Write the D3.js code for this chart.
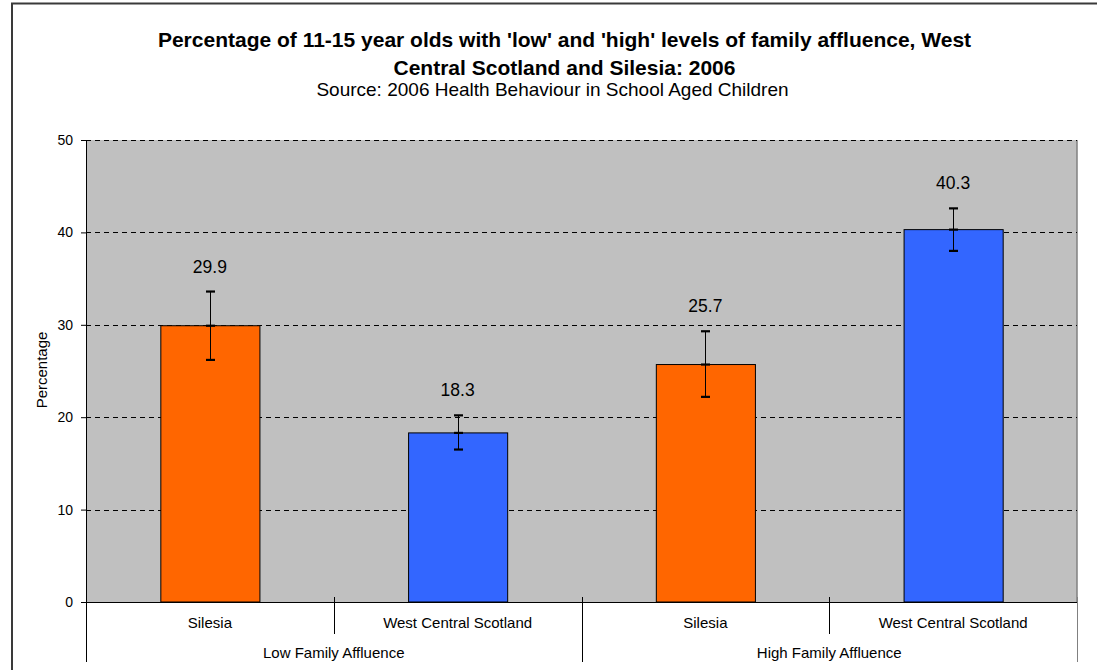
<!DOCTYPE html>
<html>
<head>
<meta charset="utf-8">
<script src="https://cdn.jsdelivr.net/npm/d3@7"></script>
<style>
  html, body { margin: 0; padding: 0; background: #ffffff; }
  svg { display: block; font-family: "Liberation Sans", Arial, sans-serif; }
</style>
</head>
<body>
<svg id="chart" width="1097" height="670"></svg>
<script>
// ---- data ----
const titleLines = ["Percentage of 11-15 year olds with 'low' and 'high' levels of family affluence, West", "Central Scotland and Silesia: 2006"];
const subtitle = "Source: 2006 Health Behaviour in School Aged Children";
const groups = ["Low Family Affluence", "High Family Affluence"];
const regions = ["Silesia", "West Central Scotland", "Silesia", "West Central Scotland"];
const values = [29.9, 18.3, 25.7, 40.3];
const lowerCI = [26.2, 16.5, 22.2, 38.0];
const upperCI = [33.6, 20.2, 29.3, 42.6];
const barColors = ["#FF6600", "#3366FF", "#FF6600", "#3366FF"];
const yTicks = [0, 10, 20, 30, 40, 50];
const yTitle = "Percentage";

// ---- layout ----
const svg = d3.select("#chart");
const plot = { left: 86, right: 1077, top: 140, bottom: 602 };

// outer chart border (cropped on right/bottom as in reference)
svg.append("path")
  .attr("d", "M12,700 L12,3.5 L1110,3.5")
  .attr("fill", "none").attr("stroke", "#3a3a3a").attr("stroke-width", 2);

// titles
svg.selectAll("text.title").data(titleLines).enter().append("text")
  .attr("class", "title")
  .attr("x", 564.5).attr("y", (d, i) => 47 + i * 28)
  .attr("text-anchor", "middle")
  .attr("font-size", "21px").attr("font-weight", "bold").attr("fill", "#000")
  .text(d => d);
svg.append("text")
  .attr("x", 552.5).attr("y", 96)
  .attr("text-anchor", "middle").attr("font-size", "19px").attr("fill", "#000")
  .text(subtitle);

// scales
const idx = d3.range(values.length);
const y = d3.scaleLinear().domain([0, 50]).range([plot.bottom, plot.top]);
const xBar = d3.scaleBand().domain(idx).range([plot.left, plot.right])
  .paddingInner(0.6).paddingOuter(0.3);
const xSlot = d3.scaleBand().domain(idx).range([plot.left, plot.right]).padding(0);
const xGroup = d3.scaleBand().domain(groups).range([plot.left, plot.right]).padding(0);

// plot background
svg.append("rect")
  .attr("x", plot.left).attr("y", plot.top)
  .attr("width", plot.right - plot.left).attr("height", plot.bottom - plot.top)
  .attr("fill", "#C0C0C0");
// right plot border
svg.append("line")
  .attr("x1", plot.right).attr("x2", plot.right)
  .attr("y1", plot.top).attr("y2", plot.bottom)
  .attr("stroke", "#808080").attr("stroke-width", 1.5);

// gridlines
svg.selectAll("line.grid").data(yTicks.filter(t => t > 0)).enter().append("line")
  .attr("class", "grid")
  .attr("x1", plot.left).attr("x2", plot.right)
  .attr("y1", d => Math.round(y(d)) + 0.5).attr("y2", d => Math.round(y(d)) + 0.5)
  .attr("stroke", "#000").attr("stroke-width", 1)
  .attr("stroke-dasharray", "5,4");

// y axis
const yAxis = d3.axisLeft(y).tickValues(yTicks).tickSize(5).tickPadding(8).tickFormat(d3.format("d"));
const yg = svg.append("g").attr("transform", `translate(${plot.left},0)`).call(yAxis);
yg.select(".domain").attr("stroke", "#000").attr("d", `M0.5,${plot.top}V${plot.bottom}`);
yg.selectAll(".tick line").attr("stroke", "#000");
yg.selectAll(".tick text").attr("font-size", "14px").attr("fill", "#000")
  .attr("font-family", "Liberation Sans, Arial, sans-serif");

// y title
svg.append("text")
  .attr("transform", `translate(47,${(plot.top + plot.bottom) / 2 - 1}) rotate(-90)`)
  .attr("text-anchor", "middle").attr("font-size", "15px").attr("fill", "#000")
  .text(yTitle);

// bars
svg.selectAll("rect.bar").data(idx).enter().append("rect")
  .attr("class", "bar")
  .attr("x", i => xBar(i) + 0.5).attr("y", i => y(values[i]))
  .attr("width", xBar.bandwidth()).attr("height", i => y(0) - y(values[i]))
  .attr("fill", i => barColors[i]).attr("stroke", "#000").attr("stroke-width", 1);

// error bars
const cx = i => Math.round(xBar(i) + xBar.bandwidth() / 2) + 0.5;
const eb = svg.append("g");
eb.selectAll("line.err").data(idx).enter().append("line")
  .attr("x1", cx).attr("x2", cx)
  .attr("y1", i => y(upperCI[i])).attr("y2", i => y(lowerCI[i]))
  .attr("stroke", "#000").attr("stroke-width", 1);
const caps = [];
idx.forEach(i => { caps.push([i, upperCI[i]], [i, values[i]], [i, lowerCI[i]]); });
eb.selectAll("line.cap").data(caps).enter().append("line")
  .attr("x1", d => cx(d[0]) - 4.5).attr("x2", d => cx(d[0]) + 4.5)
  .attr("y1", d => y(d[1])).attr("y2", d => y(d[1]))
  .attr("stroke", "#000").attr("stroke-width", 2.2);

// value labels (placed above upper error bar)
svg.selectAll("text.val").data(idx).enter().append("text")
  .attr("x", i => xBar(i) + xBar.bandwidth() / 2)
  .attr("y", i => y(upperCI[i]) - 19)
  .attr("text-anchor", "middle").attr("font-size", "17.5px").attr("fill", "#000")
  .text(i => values[i].toFixed(1));

// x axis line
svg.append("line")
  .attr("x1", plot.left).attr("x2", plot.right)
  .attr("y1", plot.bottom + 0.5).attr("y2", plot.bottom + 0.5)
  .attr("stroke", "#000").attr("stroke-width", 1);

// inner category dividers (between regions within each group)
const innerDiv = idx.filter(i => i % 2 === 1).map(i => xSlot(i));
svg.selectAll("line.idiv").data(innerDiv).enter().append("line")
  .attr("x1", d => Math.round(d) + 0.5).attr("x2", d => Math.round(d) + 0.5)
  .attr("y1", plot.bottom - 5).attr("y2", plot.bottom + 32)
  .attr("stroke", "#000").attr("stroke-width", 1);
// group dividers
const groupDiv = groups.map(g => xGroup(g)).concat([plot.right]);
svg.selectAll("line.gdiv").data(groupDiv).enter().append("line")
  .attr("x1", d => Math.round(d) + 0.5).attr("x2", d => Math.round(d) + 0.5)
  .attr("y1", plot.bottom - 5).attr("y2", 662)
  .attr("stroke", (d, i) => i === groupDiv.length - 1 ? "#808080" : "#000").attr("stroke-width", 1);

// category labels
svg.selectAll("text.cat").data(idx).enter().append("text")
  .attr("x", i => xSlot(i) + xSlot.bandwidth() / 2).attr("y", plot.bottom + 25.5)
  .attr("text-anchor", "middle").attr("font-size", "15px").attr("fill", "#000")
  .text(i => regions[i]);
svg.selectAll("text.grp").data(groups).enter().append("text")
  .attr("x", g => xGroup(g) + xGroup.bandwidth() / 2).attr("y", plot.bottom + 55.5)
  .attr("text-anchor", "middle").attr("font-size", "15px").attr("fill", "#000")
  .text(g => g);
</script>
</body>
</html>
